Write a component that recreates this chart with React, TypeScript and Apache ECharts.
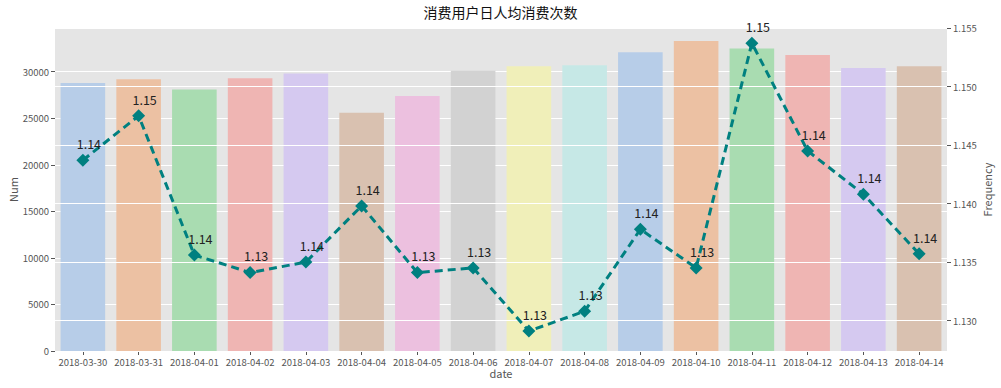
import React, { useEffect, useRef } from "react";
import * as echarts from "echarts";

const dates = [
  "2018-03-30", "2018-03-31", "2018-04-01", "2018-04-02", "2018-04-03", "2018-04-04",
  "2018-04-05", "2018-04-06", "2018-04-07", "2018-04-08", "2018-04-09", "2018-04-10",
  "2018-04-11", "2018-04-12", "2018-04-13", "2018-04-14",
];
const numValues = [
  28800, 29200, 28100, 29300, 29800, 25600, 27400, 30100, 30600, 30700, 32100, 33300,
  32500, 31800, 30400, 30600,
];
const freqValues = [
  1.1437, 1.1475, 1.1356, 1.1341, 1.1350, 1.1398, 1.1341, 1.1345, 1.1291, 1.1308,
  1.1378, 1.1345, 1.1537, 1.1445, 1.1408, 1.1357,
];
const barColors = [
  "#b7cde8", "#ecc1a3", "#a9dcb1", "#efb5b3", "#d5c9f0",
  "#d9c1b0", "#ecc0df", "#d2d2d2", "#f0efb9", "#c6e8e6",
];

const FONT = "Noto Sans CJK SC";

export default function App() {
  const ref = useRef<HTMLDivElement>(null);
  useEffect(() => {
    if (!ref.current) return;
    const chart = echarts.init(ref.current, undefined, { renderer: "svg" });
    chart.setOption({
      animation: false,
      backgroundColor: "#ffffff",
      textStyle: { fontFamily: FONT },
      title: {
        text: "消费用户日人均消费次数",
        left: "center",
        top: 0,
        textStyle: { fontFamily: FONT, fontSize: 14, fontWeight: "normal", color: "#111" },
      },
      grid: {
        left: 55, right: 54, top: 28, bottom: 37,
        show: true, backgroundColor: "#e5e5e5", borderWidth: 0,
        containLabel: false, outerBoundsMode: "none",
      },
      xAxis: {
        type: "category",
        data: dates,
        name: "date",
        nameLocation: "middle",
        nameGap: 16,
        nameMoveOverlap: false,
        nameTextStyle: { fontFamily: FONT, fontSize: 11, color: "#555" },
        axisLine: { show: false },
        axisTick: { show: true, alignWithLabel: true, length: 4, lineStyle: { color: "#555" } },
        axisLabel: { fontFamily: FONT, fontSize: 9.5, color: "#555", margin: 6, interval: 0 },
      },
      yAxis: [
        {
          type: "value",
          min: 0,
          max: 34700,
          interval: 5000,
          name: "Num",
          nameLocation: "middle",
          nameGap: 37,
          nameMoveOverlap: false,
          nameTextStyle: { fontFamily: FONT, fontSize: 11, color: "#555" },
          axisLine: { show: false },
          axisTick: { show: true, length: 4, lineStyle: { color: "#555" } },
          axisLabel: {
            fontFamily: FONT, fontSize: 9.5, color: "#555", margin: 6, showMaxLabel: false,
            formatter: (v: number) => String(v),
          },
          splitLine: { show: true, lineStyle: { color: "#ffffff", width: 1 } },
          z: 0,
        },
        {
          type: "value",
          min: 1.1274,
          max: 1.155,
          splitNumber: 5,
          minInterval: 0.005,
          maxInterval: 0.005,
          position: "right",
          name: "Frequency",
          nameLocation: "middle",
          nameGap: 34,
          nameMoveOverlap: false,
          nameTextStyle: { fontFamily: FONT, fontSize: 11, color: "#555" },
          axisLine: { show: false },
          axisTick: { show: true, length: 4, lineStyle: { color: "#555" } },
          axisLabel: {
            fontFamily: FONT,
            fontSize: 9.5,
            color: "#555",
            margin: 6,
            showMinLabel: false,
            formatter: (v: number) => v.toFixed(3),
          },
          splitLine: { show: true, lineStyle: { color: "#ffffff", width: 1 } },
          z: 2,
        },
      ],
      series: [
        {
          type: "bar",
          yAxisIndex: 0,
          barWidth: "80%",
          z: 1,
          data: numValues.map((v, i) => ({ value: v, itemStyle: { color: barColors[i % barColors.length] } })),
        },
        {
          type: "line",
          yAxisIndex: 1,
          z: 3,
          data: freqValues,
          symbol: "diamond",
          symbolSize: 13,
          itemStyle: { color: "#008080" },
          lineStyle: { color: "#008080", width: 3, type: [8, 5] },
          label: {
            show: true,
            position: "top",
            distance: 4,
            offset: [6, 0],
            fontFamily: FONT,
            fontSize: 12.5,
            color: "#222",
            formatter: (p: any) => Number(p.value).toFixed(2),
          },
        },
      ],
    });
    return () => chart.dispose();
  }, []);
  return (
    <div
      ref={ref}
      style={{ position: "fixed", left: 0, top: 0, width: 1001, height: 388 }}
    />
  );
}
